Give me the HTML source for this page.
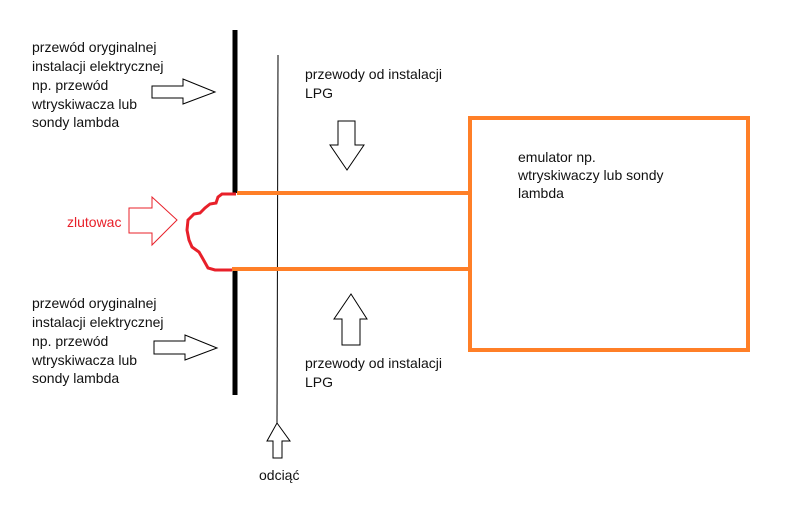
<!DOCTYPE html>
<html><head><meta charset="utf-8"><style>
html,body{margin:0;padding:0;background:#fff;}
svg{display:block;}
text{font-family:"Liberation Sans",sans-serif;font-size:14px;fill:#111;}
</style></head><body>
<svg width="791" height="507" viewBox="0 0 791 507" xmlns="http://www.w3.org/2000/svg">
<rect width="791" height="507" fill="#fff"/>
<line x1="235" y1="30" x2="235" y2="193" stroke="#000" stroke-width="5"/>
<line x1="235" y1="268" x2="235" y2="395" stroke="#000" stroke-width="5"/>
<line x1="278" y1="55" x2="277" y2="423" stroke="#000" stroke-width="1"/>
<line x1="237" y1="193" x2="470" y2="193" stroke="#FF7F27" stroke-width="4"/>
<line x1="232" y1="269" x2="470" y2="269" stroke="#FF7F27" stroke-width="4"/>
<rect x="470" y="118" width="278" height="232" fill="none" stroke="#FF7F27" stroke-width="4"/>
<path d="M236,194 L222,194 L218,197 L216,203 L210,204 L205,208 L200,213 L194,214 L188,220 L187,230 L189,240 L192,247 L199,252 L203,259 L208,268 L215,270 L232,270" fill="none" stroke="#E8202A" stroke-width="3"/>
<polygon points="129,208 152,208 152,197 177,220 152,245 152,233 129,233" fill="none" stroke="#E8202A" stroke-width="1"/>
<g fill="none" stroke="#000" stroke-width="1">
<polygon points="152,86 183,86 183,79 215,92 183,104 183,98 152,98"/>
<polygon points="154,341 185,341 185,335 217,348 185,360 185,354 154,354"/>
<polygon points="338,121 355,121 355,145 364,145 347,170 330,145 338,145"/>
<polygon points="342,345 360,345 360,319 367,319 351,294 334,319 342,319"/>
<polygon points="273,458 282,458 282,441 290,441 277,423 267,441 273,441"/>
</g>
<text x="32" y="52">przewód oryginalnej</text>
<text x="32" y="71">instalacji elektrycznej</text>
<text x="32" y="90">np. przewód</text>
<text x="32" y="109">wtryskiwacza lub</text>
<text x="32" y="127">sondy lambda</text>
<text x="32" y="308">przewód oryginalnej</text>
<text x="32" y="327">instalacji elektrycznej</text>
<text x="32" y="346">np. przewód</text>
<text x="32" y="365">wtryskiwacza lub</text>
<text x="32" y="383">sondy lambda</text>
<text x="305" y="79">przewody od instalacji</text>
<text x="305" y="98">LPG</text>
<text x="305" y="368">przewody od instalacji</text>
<text x="305" y="387">LPG</text>
<text x="518" y="162">emulator np.</text>
<text x="518" y="180">wtryskiwaczy lub sondy</text>
<text x="518" y="198">lambda</text>
<text x="67" y="227" style="fill:#E8202A">zlutowac</text>
<text x="259" y="480">odciąć</text>
</svg>
</body></html>
